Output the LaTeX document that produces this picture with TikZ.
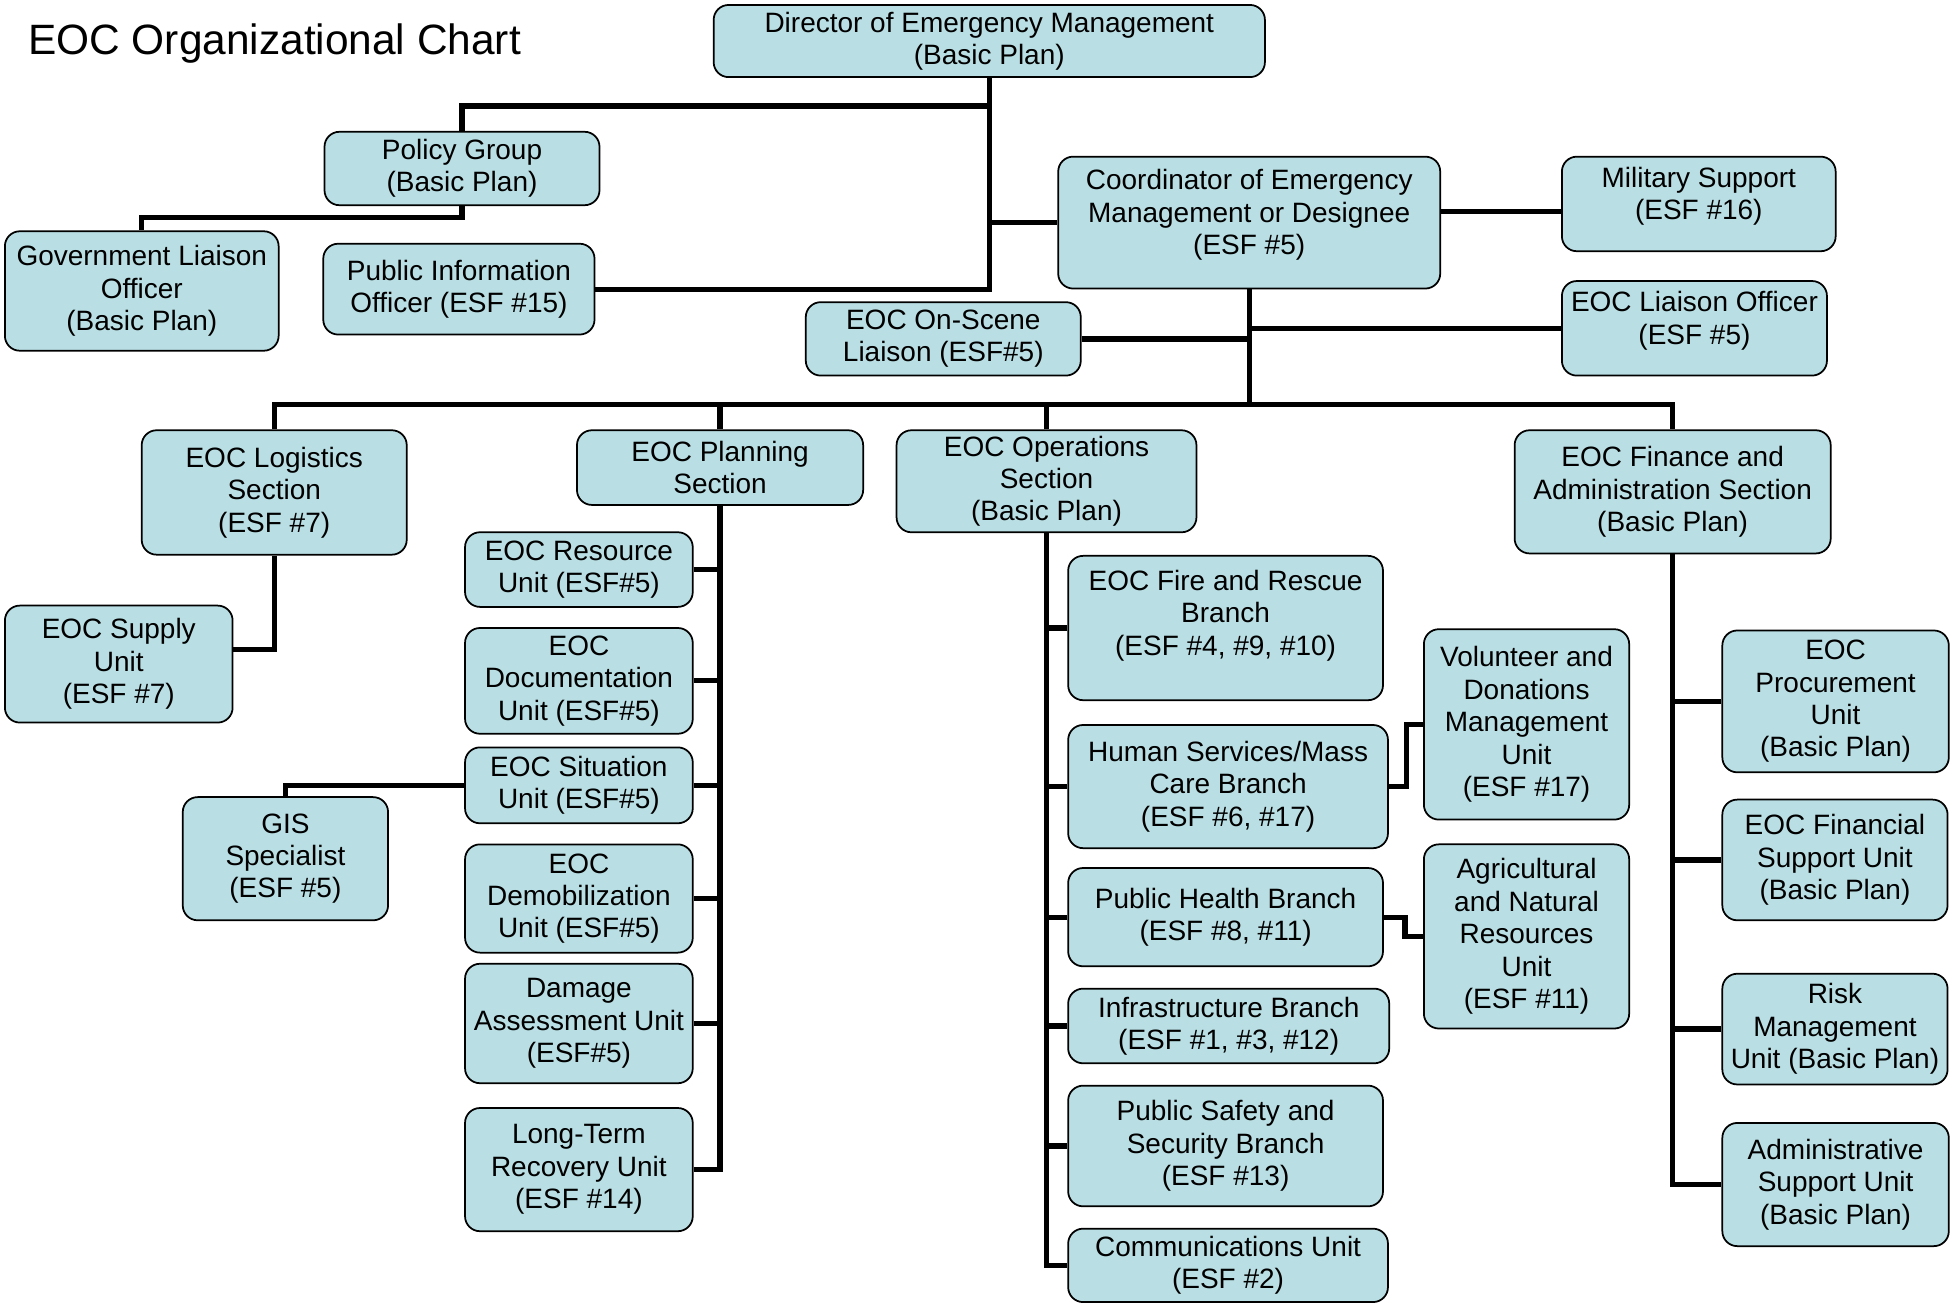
\documentclass[tikz,border=0pt]{standalone}
\usepackage{fontspec}
\setmainfont{Liberation Sans}
\usepackage{tikz}
\definecolor{boxblue}{RGB}{185,223,228}
\tikzstyle{every node}=[font=\fontsize{6.4}{7.4}\selectfont]
\tikzstyle{unit}=[draw,fill=boxblue,rounded corners=1.2mm,align=center,inner sep=0pt,line width=0.4pt]
\tikzstyle{link}=[line width=1.2pt]

\begin{document}
\begin{tikzpicture}[x=0.01cm,y=-0.01cm]
    \useasboundingbox (0,0) rectangle (1568,1049);
    \node[anchor=west,inner sep=0pt,font=\fontsize{9.7}{11}\selectfont] (title) at (22,35) {EOC Organizational Chart};

    % command level
    \node[unit,minimum width=4.43cm,minimum height=0.58cm] (dir) at (795.5,33) {Director of Emergency Management\\(Basic Plan)};
    \node[unit,minimum width=2.21cm,minimum height=0.59cm] (pol) at (371.5,135.5) {Policy Group\\(Basic Plan)};
    \node[unit,minimum width=2.20cm,minimum height=0.96cm] (gov) at (114,234) {Government Liaison\\Officer\\(Basic Plan)};
    \node[unit,minimum width=2.18cm,minimum height=0.73cm] (pio) at (369,232.5) {Public Information\\Officer (ESF \#15)};
    \node[unit,minimum width=3.07cm,minimum height=1.06cm,text depth=4.8pt] (coord) at (1004.5,179) {Coordinator of Emergency\\Management or Designee\\(ESF \#5)};
    \node[unit,minimum width=2.20cm,minimum height=0.76cm,text depth=4.8pt] (mil) at (1366,164) {Military Support\\(ESF \#16)};
    \node[unit,minimum width=2.13cm,minimum height=0.76cm,text depth=4.8pt] (liai) at (1362.5,264) {EOC Liaison Officer\\(ESF \#5)};
    \node[unit,minimum width=2.21cm,minimum height=0.59cm] (scene) at (758.5,272.5) {EOC On-Scene\\Liaison (ESF\#5)};

    % sections
    \node[unit,minimum width=2.13cm,minimum height=1.00cm] (log) at (220.5,396) {EOC Logistics\\Section\\(ESF \#7)};
    \node[unit,minimum width=2.30cm,minimum height=0.60cm] (plan) at (579,376) {EOC Planning\\Section};
    \node[unit,minimum width=2.41cm,minimum height=0.82cm] (ops) at (841.5,387) {EOC Operations\\Section\\(Basic Plan)};
    \node[unit,minimum width=2.54cm,minimum height=0.99cm] (fin) at (1345,395.5) {EOC Finance and\\Administration Section\\(Basic Plan)};

    % logistics
    \node[unit,minimum width=1.83cm,minimum height=0.94cm] (sup) at (95.5,534) {EOC Supply\\Unit\\(ESF \#7)};

    % planning
    \node[unit,minimum width=1.83cm,minimum height=0.60cm] (res) at (465.5,458) {EOC Resource\\Unit (ESF\#5)};
    \node[unit,minimum width=1.83cm,minimum height=0.85cm] (doc) at (465.5,547.5) {EOC\\Documentation\\Unit (ESF\#5)};
    \node[unit,minimum width=1.83cm,minimum height=0.61cm] (sit) at (465.5,631.5) {EOC Situation\\Unit (ESF\#5)};
    \node[unit,minimum width=1.83cm,minimum height=0.87cm] (demob) at (465.5,722.5) {EOC\\Demobilization\\Unit (ESF\#5)};
    \node[unit,minimum width=1.83cm,minimum height=0.96cm] (dmg) at (465.5,823) {Damage\\Assessment Unit\\(ESF\#5)};
    \node[unit,minimum width=1.83cm,minimum height=0.99cm] (lt) at (465.5,940.5) {Long-Term\\Recovery Unit\\(ESF \#14)};
    \node[unit,minimum width=1.65cm,minimum height=0.99cm] (gis) at (229.5,690.5) {GIS\\Specialist\\(ESF \#5)};

    % operations
    \node[unit,minimum width=2.53cm,minimum height=1.16cm,text depth=7pt] (fire) at (985.5,505) {EOC Fire and Rescue\\Branch\\(ESF \#4, \#9, \#10)};
    \node[unit,minimum width=2.57cm,minimum height=0.99cm] (hum) at (987.5,632.5) {Human Services/Mass\\Care Branch\\(ESF \#6, \#17)};
    \node[unit,minimum width=2.53cm,minimum height=0.79cm] (ph) at (985.5,737.5) {Public Health Branch\\(ESF \#8, \#11)};
    \node[unit,minimum width=2.58cm,minimum height=0.60cm] (infra) at (988,825) {Infrastructure Branch\\(ESF \#1, \#3, \#12)};
    \node[unit,minimum width=2.53cm,minimum height=0.97cm] (psafe) at (985.5,921.5) {Public Safety and\\Security Branch\\(ESF \#13)};
    \node[unit,minimum width=2.57cm,minimum height=0.59cm] (comm) at (987.5,1017.5) {Communications Unit\\(ESF \#2)};
    \node[unit,minimum width=1.65cm,minimum height=1.53cm] (vol) at (1227.5,582.5) {Volunteer and\\Donations\\Management\\Unit\\(ESF \#17)};
    \node[unit,minimum width=1.65cm,minimum height=1.48cm] (agr) at (1227.5,753) {Agricultural\\and Natural\\Resources\\Unit\\(ESF \#11)};

    % finance
    \node[unit,minimum width=1.82cm,minimum height=1.14cm] (proc) at (1476,564) {EOC\\Procurement\\Unit\\(Basic Plan)};
    \node[unit,minimum width=1.81cm,minimum height=0.97cm] (finsup) at (1475.5,691.5) {EOC Financial\\Support Unit\\(Basic Plan)};
    \node[unit,minimum width=1.81cm,minimum height=0.89cm] (risk) at (1475.5,827.5) {Risk\\Management\\Unit (Basic Plan)};
    \node[unit,minimum width=1.82cm,minimum height=0.99cm] (adm) at (1476,952.5) {Administrative\\Support Unit\\(Basic Plan)};

    % connectors
    \draw[link] (dir.south) |- (pio.east);
    \draw[link] (pol.north) -- ++(0,-20) -| (dir.south);
    \draw[link] (pol.south) -- ++(0,9) -| (gov.north);
    \draw[link] (dir.south |- coord.west) -- (coord.west);
    \draw[link] ([yshift=0.9mm]coord.east) -- ([yshift=0.9mm]coord.east -| mil.west);

    \coordinate (bus) at (1004.5,325);
    \draw[link] (coord.south) -- (bus);
    \draw[link] (scene.east) -- (scene.east -| coord.south);
    \draw[link] (liai.west) -- (liai.west -| coord.south);
    \draw[link] (log.north) |- (bus) -| (fin.north);
    \draw[link] (plan.north) -- (plan.north |- bus);
    \draw[link] (ops.north) -- (ops.north |- bus);

    \draw[link] (log.south) |- ([yshift=1.2mm]sup.east);

    \draw[link] (plan.south) |- (lt.east);
    \draw[link] (res.east) -- (res.east -| plan.south);
    \draw[link] (doc.east) -- (doc.east -| plan.south);
    \draw[link] (sit.east) -- (sit.east -| plan.south);
    \draw[link] (demob.east) -- (demob.east -| plan.south);
    \draw[link] (dmg.east) -- (dmg.east -| plan.south);
    \draw[link] (sit.west) -| (gis.north);

    \draw[link] (ops.south) |- (comm.west);
    \draw[link] (fire.west) -- (fire.west -| ops.south);
    \draw[link] (hum.west) -- (hum.west -| ops.south);
    \draw[link] (ph.west) -- (ph.west -| ops.south);
    \draw[link] (infra.west) -- (infra.west -| ops.south);
    \draw[link] (psafe.west) -- (psafe.west -| ops.south);
    \draw[link] (hum.east) -- ++(14,0) |- (vol.west);
    \draw[link] (ph.east) -- ++(17,0) |- (agr.west);

    \draw[link] (fin.south) |- (adm.west);
    \draw[link] (proc.west) -- (proc.west -| fin.south);
    \draw[link] (finsup.west) -- (finsup.west -| fin.south);
    \draw[link] (risk.west) -- (risk.west -| fin.south);
\end{tikzpicture}
\end{document}
